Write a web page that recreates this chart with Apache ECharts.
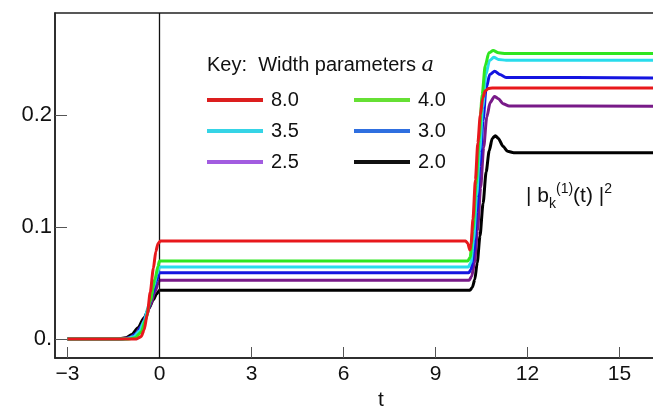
<!DOCTYPE html>
<html>
<head>
<meta charset="utf-8">
<script src="https://cdn.jsdelivr.net/npm/echarts@6/dist/echarts.min.js"></script>
<style>
  html, body { margin: 0; padding: 0; background: #fff; }
  #chart { width: 653px; height: 406px; }
</style>
</head>
<body>
<div id="chart"></div>
<script>
// width parameter a -> [t, |b|^2]
const names = ['2.0', '2.5', '3.0', '3.5', '4.0', '8.0']
const lineColors = ['#000000', '#781a88', '#1414e0', '#28dcec', '#2ee620', '#e8181c']
const keyColors = ['#111111', '#a25ce0', '#2f6fe0', '#35d4e6', '#66e034', '#dc1e1e']

const a20 = [[-3, 0], [-1.4, 0], [-1.1, 0.001], [-0.9, 0.004], [-0.7, 0.010], [-0.5, 0.019], [-0.35, 0.027], [-0.2, 0.035], [-0.1, 0.040], [0, 0.0435],
  [10.12, 0.0435], [10.2, 0.046], [10.28, 0.053], [10.36, 0.068], [10.45, 0.092], [10.55, 0.121], [10.65, 0.149], [10.75, 0.168], [10.85, 0.179], [10.95, 0.1815], [11.05, 0.179], [11.2, 0.172], [11.35, 0.1675], [11.55, 0.1663], [16.2, 0.1663]]
const a25 = [[-3, 0], [-1.3, 0], [-1.0, 0.001], [-0.8, 0.004], [-0.6, 0.011], [-0.45, 0.019], [-0.3, 0.030], [-0.15, 0.042], [-0.05, 0.049], [0, 0.0525],
  [10.1, 0.0525], [10.18, 0.056], [10.27, 0.068], [10.37, 0.097], [10.47, 0.135], [10.57, 0.171], [10.67, 0.198], [10.78, 0.211], [10.92, 0.2165], [11.05, 0.2145], [11.2, 0.210], [11.4, 0.208], [16.2, 0.2077]]
const a30 = [[-3, 0], [-1.2, 0], [-0.95, 0.001], [-0.75, 0.005], [-0.55, 0.013], [-0.4, 0.024], [-0.25, 0.038], [-0.1, 0.052], [0, 0.059],
  [10.08, 0.059], [10.16, 0.062], [10.25, 0.077], [10.35, 0.114], [10.45, 0.155], [10.55, 0.195], [10.65, 0.224], [10.77, 0.236], [10.93, 0.239], [11.1, 0.236], [11.3, 0.2335], [16.2, 0.233]]
const a35 = [[-3, 0], [-1.1, 0], [-0.85, 0.002], [-0.65, 0.007], [-0.5, 0.016], [-0.35, 0.030], [-0.2, 0.046], [-0.08, 0.058], [0, 0.0643],
  [10.07, 0.0643], [10.15, 0.068], [10.24, 0.088], [10.34, 0.128], [10.44, 0.168], [10.54, 0.207], [10.64, 0.236], [10.76, 0.2485], [10.9, 0.2515], [11.05, 0.2495], [11.3, 0.2488], [16.2, 0.2488]]
const a40 = [[-3, 0], [-1.0, 0], [-0.8, 0.001], [-0.6, 0.006], [-0.45, 0.017], [-0.3, 0.034], [-0.15, 0.053], [-0.05, 0.065], [0, 0.0695],
  [10.05, 0.0695], [10.13, 0.073], [10.22, 0.097], [10.32, 0.138], [10.42, 0.178], [10.52, 0.218], [10.62, 0.244], [10.74, 0.2555], [10.88, 0.2575], [11.05, 0.2555], [11.3, 0.2548], [16.2, 0.2548]]
const a80 = [[-3, 0], [-0.75, 0], [-0.6, 0.002], [-0.5, 0.008], [-0.4, 0.022], [-0.3, 0.042], [-0.2, 0.063], [-0.12, 0.078], [-0.05, 0.085], [0.03, 0.0875],
  [9.98, 0.0875], [10.05, 0.0855], [10.12, 0.0795], [10.16, 0.085], [10.22, 0.107], [10.3, 0.142], [10.38, 0.175], [10.46, 0.200], [10.54, 0.215], [10.62, 0.2215], [10.72, 0.2235], [10.85, 0.224], [16.2, 0.224]]

const xTicks = [-3, 0, 3, 6, 9, 12, 15]
const yTicks = [0, 0.1, 0.2]
const yTickLabels = ['0.', '0.1', '0.2']

const seriesData = [a20, a25, a30, a35, a40, a80]
const FONT = '"Liberation Sans", Arial, sans-serif'

const chart = echarts.init(document.getElementById('chart'))

const series = seriesData.map((d, i) => {
  const s = {
    name: names[i],
    type: 'line',
    data: d,
    showSymbol: false,
    smooth: 0.25,
    smoothMonotone: 'x',
    color: lineColors[i],
    lineStyle: { width: 3, color: lineColors[i] },
    z: 3 + i
  }
  if (i === 0) {
    s.markLine = {
      silent: true,
      symbol: ['none', 'none'],
      label: { show: false },
      lineStyle: { color: '#111', width: 1.3, type: 'solid' },
      data: [{ xAxis: 0 }]
    }
  }
  return s
})

const keyItem = i => ({ name: names[i], itemStyle: { color: keyColors[i] } })
const legendBase = {
  orient: 'vertical',
  top: 90,
  padding: 0,
  icon: 'rect',
  itemWidth: 56,
  itemHeight: 4,
  itemGap: 11,
  selectedMode: false,
  textStyle: { fontFamily: FONT, fontSize: 20, lineHeight: 20, color: '#111', padding: [0, 0, 0, 3] }
}

const option = {
  animation: false,
  backgroundColor: '#fff',
  grid: {
    left: 55,
    right: -2,
    top: 13,
    bottom: 48,
    outerBoundsMode: 'none',
    containLabel: false,
    show: true,
    borderColor: '#222',
    borderWidth: 1.5
  },
  title: {
    text: 'Key:  Width parameters {a|a}',
    left: 202,
    top: 50,
    textStyle: {
      fontFamily: FONT,
      fontSize: 20,
      fontWeight: 'normal',
      color: '#111',
      rich: {
        a: { fontFamily: '"DejaVu Serif", "Liberation Serif", serif', fontStyle: 'italic', fontSize: 21, color: '#111' }
      }
    }
  },
  legend: [
    Object.assign({}, legendBase, { left: 207, data: [keyItem(5), keyItem(3), keyItem(1)] }),
    Object.assign({}, legendBase, { left: 354, data: [keyItem(4), keyItem(2), keyItem(0)] })
  ],
  graphic: [{
    type: 'text',
    left: 526,
    top: 182,
    style: {
      text: '| b{sub|k}{sup|(1)}(t) |{sup|2}',
      font: '21px ' + FONT,
      fill: '#111',
      rich: {
        sub: { fontSize: 14, fontFamily: FONT, verticalAlign: 'bottom', lineHeight: 24, padding: [0, 0, -3, 0] },
        sup: { fontSize: 14, fontFamily: FONT, verticalAlign: 'top', lineHeight: 24, padding: [-2, 0, 0, 0] }
      }
    }
  }],
  xAxis: {
    type: 'value',
    min: -3.407,
    max: 16.156,
    name: 't',
    nameLocation: 'middle',
    nameGap: 28,
    nameTextStyle: { fontFamily: FONT, fontSize: 21, color: '#111', padding: [0, 0, 0, 52] },
    splitLine: { show: false },
    axisLine: { show: true, onZero: false, lineStyle: { color: '#222', width: 1.5 } },
    axisTick: { show: true, inside: true, length: 11, customValues: xTicks, lineStyle: { color: '#555', width: 1 } },
    axisLabel: {
      customValues: xTicks,
      margin: 6,
      fontFamily: FONT,
      fontSize: 21,
      color: '#111',
      formatter: v => (v < 0 ? '\u2212' + Math.abs(v) : String(v))
    }
  },
  yAxis: {
    type: 'value',
    min: -0.017,
    max: 0.291,
    splitLine: { show: false },
    axisLine: { show: true, onZero: false, lineStyle: { color: '#222', width: 1.5 } },
    axisTick: { show: true, inside: true, length: 12, customValues: yTicks, lineStyle: { color: '#555', width: 1 } },
    axisLabel: {
      customValues: yTicks,
      margin: 3,
      fontFamily: FONT,
      fontSize: 22,
      color: '#111',
      formatter: v => yTickLabels[yTicks.indexOf(Math.round(v * 10) / 10)]
    }
  },
  series: series
}

chart.setOption(option)
</script>
</body>
</html>
